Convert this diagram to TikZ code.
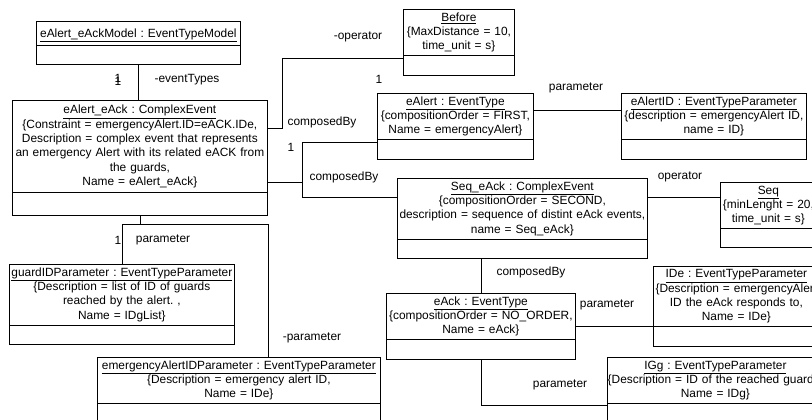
\documentclass[tikz,border=0pt]{standalone}
\usepackage{fontspec}
\setmainfont{Liberation Sans}
\usetikzlibrary{shapes.multipart}

\begin{document}
\frenchspacing
\begin{tikzpicture}[x=1bp,y=-1bp,line width=0.75bp,
    umlobj/.style={draw,rectangle split,rectangle split parts=2,
      rectangle split empty part height=12.5bp,rectangle split empty part depth=0bp,
      anchor=north west,align=center,inner xsep=0bp,inner ysep=3bp,
      font=\fontsize{11.9bp}{14.3bp}\selectfont},
    rolelab/.style={font=\fontsize{11.9bp}{14.3bp}\selectfont,inner sep=0bp}]
  \useasboundingbox (0,0) rectangle (812,419);
    \node[umlobj,text width=204bp] (model) at (36,21) {\rule[-3.5bp]{0bp}{16bp}\underline{eAlert\_eAckModel : EventTypeModel}};
    \node[umlobj,text width=255bp,inner ysep=4.5bp,rectangle split empty part height=9.5bp] (ealertack) at (12,100) {\underline{eAlert\_eAck : ComplexEvent}\\\{Constraint = emergencyAlert.ID=eACK.IDe,\\Description = complex event that represents\\an emergency Alert with its related eACK from\\the guards,\\Name = eAlert\_eAck\}};
    \node[umlobj,text width=111bp] (before) at (403,9) {\underline{Before}\\\{MaxDistance = 10,\\time\_unit = s\}};
    \node[umlobj,text width=156bp] (ealert) at (377,93) {\underline{eAlert : EventType}\\\{compositionOrder = FIRST,\\Name = emergencyAlert\}};
    \node[umlobj,text width=185bp] (ealertid) at (621,93) {\underline{eAlertID : EventTypeParameter}\\\{description = emergencyAlert ID,\\name = ID\}};
    \node[umlobj,text width=250bp] (seqeack) at (397,178) {\underline{Seq\_eAck : ComplexEvent}\\\{compositionOrder = SECOND,\\description = sequence of distint eAck events,\\name = Seq\_eAck\}};
    \node[umlobj,text width=96bp] (seq) at (720,182) {\underline{Seq}\\\{minLenght = 20,\\time\_unit = s\}};
    \node[umlobj,text width=166bp] (ide) at (653,266) {\underline{IDe : EventTypeParameter}\\\{Description = emergencyAlert\\ID the eAck responds to,\\Name = IDe\}};
    \node[umlobj,text width=189bp] (eack) at (386,293) {\underline{eAck : EventType}\\\{compositionOrder = NO\_ORDER,\\Name = eAck\}};
    \node[umlobj,text width=216bp] (igg) at (607,357) {\underline{IGg : EventTypeParameter}\\\{Description = ID of the reached guards,\\Name = IDg\}};
    \node[umlobj,text width=225bp] (guardid) at (9,264) {\underline{guardIDParameter : EventTypeParameter}\\\{Description = list of  ID of guards\\reached by the alert. ,\hspace*{52bp}\\Name = IDgList\}\hspace*{14bp}};
    \node[umlobj,text width=283bp] (emergency) at (97,357) {\underline{emergencyAlertIDParameter : EventTypeParameter}\\\{Description = emergency alert ID,\\Name = IDe\}\hspace*{36bp}};
  \draw (model.south) -- (model.south |- ealertack.north);
  \draw (ealertack.east |- 0,128) -| (282,58) -- (before.west |- 0,58);
  \draw (ealertack.east |- 0,182) -- (302,182);
  \draw (ealert.west |- 0,142) -| (302,197) -- (seqeack.west |- 0,197);
  \draw (ealert.east |- 0,110) -- (ealertid.west |- 0,110);
  \draw (seqeack.east |- 0,197) -- (seq.west |- 0,197);
  \draw (eack.north) -- (eack.north |- seqeack.south);
  \draw (eack.east |- 0,326) -- (ide.west |- 0,326);
  \draw (eack.south) |- (igg.west |- 0,405);
  \draw (ealertack.south) -- (ealertack.south |- 0,224);
  \draw (guardid.north) |- (268,224) -- (emergency.north -| 268,0);
    \node[rolelab] (m1) at (118,78) {1};
    \node[rolelab] (m1b) at (118,81) {1};
    \node[rolelab] (m2) at (187,80) {-eventTypes};
    \node[rolelab] (o1) at (358,37) {-operator};
    \node[rolelab] (c1) at (322,122) {composedBy};
    \node[rolelab] (c1n) at (379,79) {1};
    \node[rolelab] (c2n) at (291,147) {1};
    \node[rolelab] (c2) at (344,177) {composedBy};
    \node[rolelab] (p1) at (576,88) {parameter};
    \node[rolelab] (o2) at (680,177) {operator};
    \node[rolelab] (c3) at (531,272) {composedBy};
    \node[rolelab] (p2) at (607,305) {parameter};
    \node[rolelab] (p3) at (560,385) {parameter};
    \node[rolelab] (g1) at (118,240) {1};
    \node[rolelab] (g2) at (163,240) {parameter};
    \node[rolelab] (e1) at (312,338) {-parameter};
\end{tikzpicture}
\end{document}
